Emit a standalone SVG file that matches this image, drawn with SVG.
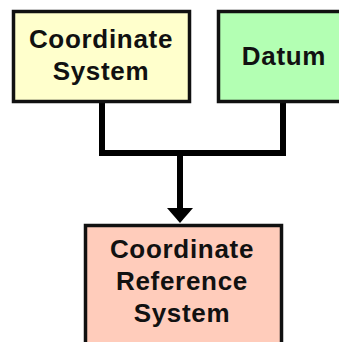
<svg xmlns="http://www.w3.org/2000/svg" width="339" height="342" viewBox="0 0 339 342">
  <style>
    .box { stroke: #111; stroke-width: 3.5; }
    .label { font-family: "Liberation Sans", Arial, sans-serif; font-weight: bold; font-size: 26px; letter-spacing: 0.7px; fill: #111; text-anchor: middle; }
    .wire { fill: none; stroke: #000; stroke-width: 6; stroke-linejoin: miter; }
  </style>
  <rect width="339" height="342" fill="#fff"/>

  <g id="connectors">
    <path class="wire" d="M102,103 V153 H283 V103"/>
    <path class="wire" d="M180,153 V210"/>
    <polygon points="167,208 193,208 180,223" fill="#000"/>
  </g>

  <g id="coordinate-system">
    <rect class="box" x="13.5" y="11.5" width="176" height="90" fill="#FFFFCC"/>
    <text class="label" x="101" y="48">Coordinate</text>
    <text class="label" x="101" y="80">System</text>
  </g>

  <g id="datum">
    <rect class="box" x="218.5" y="11.5" width="135" height="90" fill="#B3FFB3"/>
    <text class="label" x="284" y="65">Datum</text>
  </g>

  <g id="coordinate-reference-system">
    <rect class="box" x="85.5" y="225.5" width="196" height="130" fill="#FFCCBB"/>
    <text class="label" x="182" y="258">Coordinate</text>
    <text class="label" x="182" y="290">Reference</text>
    <text class="label" x="182" y="322">System</text>
  </g>
</svg>
